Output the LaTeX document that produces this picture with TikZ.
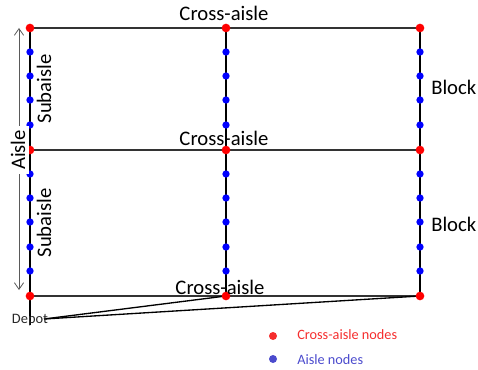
\documentclass[tikz,border=0pt]{standalone}
\usepackage{fontspec}
\setmainfont{Carlito}
\usetikzlibrary{arrows.meta}
\definecolor{crossred}{RGB}{255,0,0}
\definecolor{aisleblue}{RGB}{0,0,255}
\definecolor{legred}{RGB}{245,45,45}
\definecolor{legblue}{RGB}{75,75,205}
\tikzset{
  cnode/.style={circle,fill=crossred,inner sep=0pt,minimum size=6.5pt},
  anode/.style={circle,fill=aisleblue,inner sep=0pt,minimum size=5.5pt},
  crossline/.style={draw={rgb,255:red,51;green,51;blue,51},line width=1.3pt},
  aisleline/.style={draw=black,line width=1pt},
  bigtext/.style={font=\fontsize{15.5}{18}\selectfont,inner sep=0pt},
  legtext/.style={font=\fontsize{10.7}{13}\selectfont,inner sep=0pt,anchor=west}
}
\begin{document}
\begin{tikzpicture}[x=0.75pt,y=0.75pt,yscale=-1,xscale=1]
\useasboundingbox (0,0) rectangle (478,370);

%Cross-aisle nodes
\coordinate (tl) at (30,28);
\coordinate (tm) at (226,28);
\coordinate (tr) at (420,28);
\coordinate (ml) at (30,150);
\coordinate (mm) at (226,150);
\coordinate (mr) at (420,150);
\coordinate (bl) at (30,296);
\coordinate (bm) at (226,296);
\coordinate (br) at (420,296);
\coordinate (aisleend) at (30,325);
\coordinate (depot) at (44,319);

%Cross-aisles
\draw [crossline] (tl) -- (tr) ;
\draw [crossline] (ml) -- (mr) ;
\draw [crossline] (bl) -- (br) ;
%Aisles
\draw [aisleline] (tl) -- (aisleend) ;
\draw [aisleline] (tm) -- (bm) ;
\draw [aisleline] (tr) -- (br) ;
%Depot connections
\draw [line width=1pt] (depot) -- (bm) ;
\draw [line width=1pt] (depot) -- (br) ;

%Aisle nodes
\foreach \x in {30,226,420} {
  \foreach \y in {52,76,100,125} \node [anode] at (\x,\y) {};
  \foreach \y in {174,198,222,247,271} \node [anode] at (\x,\y) {};
}
\foreach \p in {tl,tm,tr,ml,mm,mr,bl,bm,br} \node [cnode] at (\p) {};

%Aisle arrow
\coordinate (arrtop) at (19,28);
\coordinate (arrbot) at (19,290);
\draw [draw={rgb,255:red,90;green,90;blue,90},line width=0.6pt,{Straight Barb[length=5pt,width=7pt]}-{Straight Barb[length=5pt,width=7pt]}] (arrtop) -- (arrbot) ;
% Text Node
\node (aisle) [bigtext,rotate=90,fill=white,inner sep=3pt] at (18,150) {Aisle};

% Text Node
\node (cross1) [bigtext] at (224,13) {Cross-aisle};
% Text Node
\node (cross2) [bigtext] at (224,138) {Cross-aisle};
% Text Node
\node (cross3) [bigtext] at (220,287) {Cross-aisle};
% Text Node
\node (sub1) [bigtext,rotate=90] at (44,89) {Subaisle};
% Text Node
\node (sub2) [bigtext,rotate=90] at (44,223) {Subaisle};
% Text Node
\node (block1) [bigtext,anchor=west] at (431,87) {Block};
% Text Node
\node (block2) [bigtext,anchor=west] at (431,224) {Block};
% Text Node
\node (depotlbl) [font=\fontsize{10.8}{13}\selectfont,inner sep=0pt,text={rgb,255:red,40;green,40;blue,40}] at (30,320) {Depot};

%Legend
\node (legc) [circle,fill=legred,inner sep=0pt,minimum size=6pt] at (273,336) {};
\node (legctext) [legtext,text=legred] at (297,335) {Cross-aisle nodes};
\node (lega) [circle,fill=legblue,inner sep=0pt,minimum size=6pt] at (273,359) {};
\node (legatext) [legtext,text=legblue] at (297,360) {Aisle nodes};

\end{tikzpicture}
\end{document}
